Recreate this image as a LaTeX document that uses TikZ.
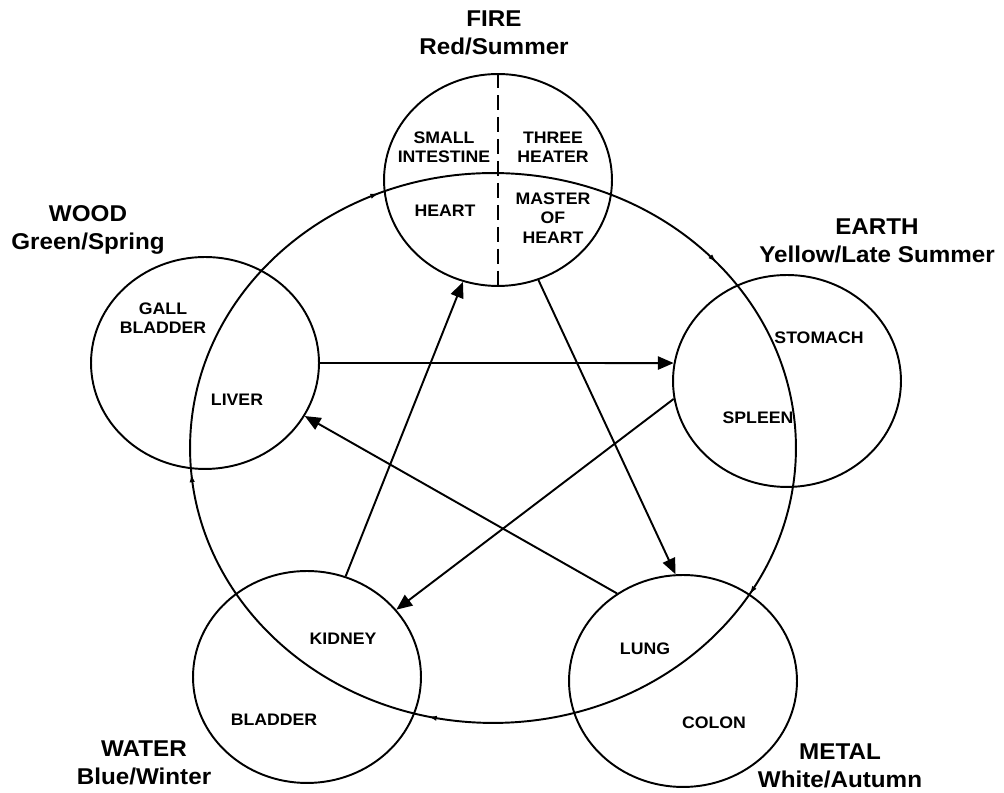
\documentclass[tikz,border=0pt]{standalone}
\usepackage{fontspec}
\setmainfont{Liberation Sans}[FakeStretch=1.06]
\usetikzlibrary{shapes.geometric}
\usetikzlibrary{arrows.meta}
\usetikzlibrary{decorations.markings}

\begin{document}
\begin{tikzpicture}[x=0.02cm, y=0.02cm,
    phase/.style={ellipse, draw, line width=1.1pt, inner sep=0pt,
        minimum width=4.56cm, minimum height=4.24cm},
    element/.style={font=\fontsize{13}{16}\selectfont\bfseries, align=center},
    organ/.style={font=\fontsize{9.5}{11}\selectfont\bfseries, align=center},
    control/.style={-{Triangle[length=9pt, width=7.5pt]}, line width=1.1pt}
]
\useasboundingbox (0,0) rectangle (1004,793);

% --- GENERATING CYCLE (outer ring) ---
\draw[line width=1.1pt, postaction={decorate},
    decoration={markings, mark=between positions 0.114 and 0.99 step 0.2
        with {\arrowreversed{Latex[length=5pt, width=3pt]}}}]
    (493,345) ellipse [x radius=6.06cm, y radius=5.5cm];

% --- THE FIVE PHASES ---
\node[phase] (fire)  at (498,613) {};
\node[phase] (wood)  at (205,430) {};
\node[phase] (earth) at (787,412) {};
\node[phase] (water) at (307,116) {};
\node[phase] (metal) at (683,112) {};

% Fire is split in four
\draw[line width=1.1pt, dash pattern=on 8.5pt off 4pt] (fire.north) -- (fire.south);

% --- CONTROLLING CYCLE (star) ---
\draw[control] (wood.east) -- (earth.171);
\draw[control] (water.69) -- (fire.251);
\draw[control] (fire.292) -- (metal.94);
\draw[control] (earth.189) -- (water.37);
\draw[control] (metal.127) -- (wood.332);

% --- ELEMENT NAMES ---
\node[element] (fire-name)  at (494,760) {FIRE\\Red/Summer};
\node[element] (wood-name)  at (88,563)  {WOOD\\Green/Spring};
\node[element] (earth-name) at (877,552) {EARTH\\Yellow/Late Summer};
\node[element] (water-name) at (144,30)  {WATER\\Blue/Winter};
\node[element] (metal-name) at (840,27)  {METAL\\White/Autumn};

% --- ORGANS ---
\node[organ] (small)   at (444,646) {SMALL\\INTESTINE};
\node[organ] (heater)  at (553,646) {THREE\\HEATER};
\node[organ] (heart)   at (445,582) {HEART};
\node[organ] (master)  at (553,575) {MASTER\\OF\\HEART};
\node[organ] (gall)    at (163,475) {GALL\\BLADDER};
\node[organ] (liver)   at (237,393) {LIVER};
\node[organ] (stomach) at (819,455) {STOMACH};
\node[organ] (spleen)  at (758,375) {SPLEEN};
\node[organ] (kidney)  at (343,154) {KIDNEY};
\node[organ] (bladder) at (274,73)  {BLADDER};
\node[organ] (lung)    at (645,144) {LUNG};
\node[organ] (colon)   at (714,70)  {COLON};

\end{tikzpicture}
\end{document}
